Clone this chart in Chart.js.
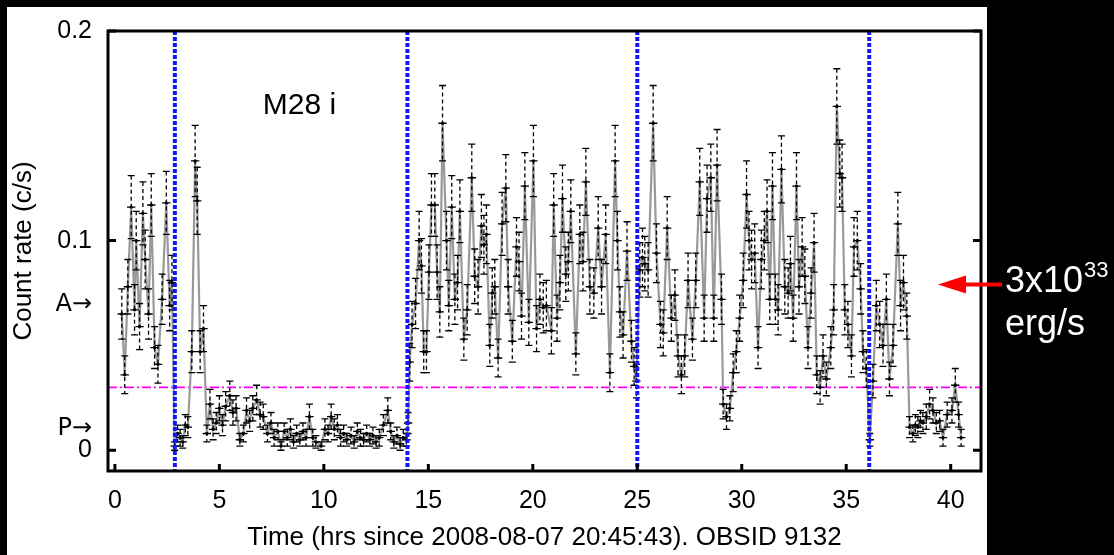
<!DOCTYPE html>
<html><head><meta charset="utf-8">
<script src="https://cdn.jsdelivr.net/npm/chart.js@4"></script>
<style>html,body{margin:0;padding:0;background:#000;}canvas{display:block}</style>
</head><body>
<canvas id="c" width="1114" height="555"></canvas>
<script>
// [hours, count rate (c/s), 1-sigma error]
const segBright1 = [
 [0.33,0.065,0.012],[0.47,0.036,0.009],[0.62,0.078,0.013],[0.78,0.116,0.015],[0.94,0.067,0.012],
 [1.02,0.100,0.014],[1.18,0.059,0.011],[1.34,0.113,0.015],[1.45,0.091,0.014],[1.61,0.065,0.012],
 [1.74,0.117,0.015],[1.90,0.049,0.010],[2.06,0.041,0.009],[2.26,0.072,0.012],[2.46,0.118,0.015],
 [2.62,0.069,0.012],[2.73,0.080,0.013],[2.86,0.002,0.002],[3.00,0.008,0.004],[3.12,0.006,0.004],
 [3.25,0.004,0.003],[3.37,0.012,0.005],[3.49,0.011,0.005],[3.68,0.047,0.010],[3.84,0.138,0.017],
 [3.94,0.119,0.016],[4.08,0.047,0.010],[4.24,0.058,0.011],[4.40,0.008,0.004]
];
const segFaint1 = [
 [4.55,0.022,0.007],[4.70,0.010,0.005],[4.85,0.013,0.005],[5.00,0.020,0.006],[5.15,0.012,0.005],
 [5.30,0.021,0.007],[5.50,0.026,0.007],[5.65,0.018,0.006],[5.80,0.020,0.006],[5.98,0.005,0.003],
 [6.15,0.008,0.004],[6.30,0.019,0.006],[6.45,0.014,0.005],[6.60,0.020,0.006],[6.78,0.024,0.007],
 [6.95,0.017,0.006],[7.10,0.016,0.006],[7.30,0.008,0.004],[7.47,0.013,0.005],[7.62,0.006,0.004],
 [7.80,0.009,0.004],[7.95,0.002,0.002],[8.10,0.009,0.004],[8.25,0.006,0.004],[8.40,0.010,0.005],
 [8.55,0.004,0.003],[8.70,0.008,0.004],[8.85,0.005,0.003],[9.00,0.009,0.004],[9.15,0.006,0.004],
 [9.31,0.016,0.006],[9.47,0.006,0.004],[9.62,0.004,0.003],[9.87,0.002,0.002],[10.05,0.010,0.005],
 [10.20,0.008,0.004],[10.35,0.016,0.006],[10.50,0.010,0.005],[10.65,0.012,0.005],[10.80,0.006,0.004],
 [10.95,0.008,0.004],[11.10,0.005,0.003],[11.30,0.007,0.004],[11.45,0.004,0.003],[11.60,0.009,0.004],
 [11.75,0.006,0.004],[11.90,0.005,0.003],[12.05,0.008,0.004],[12.20,0.005,0.003],[12.35,0.007,0.004],
 [12.50,0.004,0.003],[12.65,0.006,0.004],[12.85,0.012,0.005],[13.06,0.019,0.006],[13.20,0.009,0.004],
 [13.35,0.004,0.003],[13.50,0.007,0.004],[13.65,0.003,0.003],[13.80,0.006,0.004],[13.95,0.005,0.003],
 [14.03,0.013,0.005]
];
const segBright2 = [
 [14.11,0.042,0.009],[14.22,0.060,0.011],[14.39,0.070,0.012],[14.56,0.100,0.014],[14.67,0.088,0.013],
 [14.78,0.047,0.010],[14.91,0.047,0.010],[15.03,0.085,0.013],[15.15,0.117,0.015],[15.31,0.117,0.015],
 [15.42,0.085,0.013],[15.55,0.066,0.012],[15.68,0.156,0.018],[15.87,0.100,0.014],[15.98,0.069,0.012],
 [16.12,0.116,0.015],[16.27,0.072,0.012],[16.40,0.080,0.013],[16.51,0.114,0.015],[16.70,0.053,0.010],
 [16.86,0.067,0.012],[17.08,0.130,0.016],[17.22,0.083,0.013],[17.38,0.078,0.013],[17.54,0.107,0.015],
 [17.66,0.098,0.014],[17.78,0.103,0.014],[17.94,0.050,0.010],[18.06,0.075,0.012],[18.18,0.078,0.013],
 [18.34,0.044,0.009],[18.53,0.108,0.015],[18.71,0.125,0.016],[18.82,0.078,0.013],[19.02,0.052,0.010],
 [19.22,0.097,0.014],[19.34,0.090,0.014],[19.46,0.064,0.011],[19.62,0.126,0.016],[19.81,0.061,0.011],
 [20.03,0.138,0.017],[20.18,0.058,0.011],[20.34,0.072,0.012],[20.50,0.068,0.012],[20.65,0.069,0.012],
 [20.89,0.057,0.011],[21.00,0.117,0.015],[21.16,0.063,0.011],[21.30,0.080,0.013],[21.42,0.120,0.016],
 [21.58,0.084,0.013],[21.70,0.090,0.014],[21.82,0.114,0.015],[22.06,0.046,0.010],[22.25,0.103,0.014],
 [22.40,0.090,0.014],[22.54,0.128,0.016],[22.73,0.078,0.013],[22.92,0.075,0.012],[23.13,0.106,0.015],
 [23.29,0.078,0.013],[23.49,0.103,0.014],[23.69,0.037,0.009],[23.94,0.138,0.017],[24.05,0.100,0.014],
 [24.17,0.066,0.012],[24.32,0.055,0.011],[24.51,0.095,0.014],[24.72,0.052,0.010],[24.85,0.040,0.009],
 [24.96,0.033,0.008],[25.12,0.086,0.013],[25.25,0.092,0.014],[25.36,0.089,0.013],[25.52,0.086,0.013],
 [25.76,0.156,0.018],[25.92,0.094,0.014],[26.11,0.060,0.011],[26.24,0.056,0.011],[26.43,0.106,0.015],
 [26.63,0.063,0.011],[26.80,0.074,0.012],[26.95,0.045,0.010],[27.11,0.036,0.009],[27.27,0.045,0.010],
 [27.43,0.081,0.013],[27.64,0.053,0.010],[27.80,0.081,0.013],[27.99,0.128,0.016],[28.20,0.063,0.011],
 [28.34,0.120,0.016],[28.52,0.130,0.016],[28.66,0.063,0.011],[28.82,0.136,0.017],[29.03,0.072,0.012],
 [29.11,0.022,0.007],[29.27,0.016,0.006],[29.43,0.020,0.006],[29.59,0.037,0.009],[29.74,0.047,0.010],
 [29.90,0.063,0.011],[30.07,0.081,0.013],[30.23,0.122,0.016],[30.35,0.100,0.014],[30.47,0.091,0.014],
 [30.62,0.094,0.014],[30.78,0.049,0.010],[30.94,0.091,0.014],[31.08,0.100,0.014],[31.21,0.114,0.015],
 [31.34,0.072,0.012],[31.47,0.126,0.016],[31.61,0.072,0.012],[31.74,0.067,0.012],[31.90,0.134,0.016],
 [32.06,0.078,0.013],[32.22,0.075,0.012],[32.33,0.089,0.013],[32.46,0.063,0.011],[32.62,0.126,0.016],
 [32.74,0.078,0.013],[32.89,0.097,0.014],[33.02,0.083,0.013],[33.17,0.049,0.010],[33.32,0.075,0.012],
 [33.46,0.099,0.014],[33.59,0.036,0.009],[33.75,0.030,0.008],[33.89,0.045,0.010],[34.05,0.034,0.008],
 [34.26,0.049,0.010],[34.40,0.067,0.012],[34.55,0.164,0.018],[34.69,0.132,0.016],[34.80,0.130,0.016],
 [34.93,0.067,0.012],[35.08,0.060,0.011],[35.25,0.045,0.010],[35.37,0.097,0.014],[35.53,0.100,0.014],
 [35.69,0.077,0.012],[35.80,0.047,0.010],[35.96,0.039,0.009],[36.13,0.005,0.003],[36.28,0.033,0.008],
 [36.44,0.069,0.012],[36.60,0.060,0.011],[36.76,0.050,0.010],[36.92,0.072,0.012],[37.07,0.034,0.008],
 [37.24,0.050,0.010],[37.47,0.108,0.015],[37.60,0.069,0.012],[37.74,0.080,0.013],[37.90,0.064,0.011]
];
const segFaint2 = [
 [38.03,0.011,0.005],[38.19,0.008,0.004],[38.31,0.012,0.005],[38.43,0.011,0.005],[38.55,0.014,0.005],
 [38.67,0.013,0.005],[38.83,0.016,0.006],[38.99,0.022,0.007],[39.15,0.019,0.006],[39.31,0.013,0.005],
 [39.47,0.014,0.005],[39.63,0.006,0.004],[39.83,0.017,0.006],[40.06,0.019,0.006],[40.22,0.031,0.008],
 [40.38,0.017,0.006],[40.50,0.006,0.004]
];
const binHalfWidth = 0.2;
const xTickValues = [0,5,10,15,20,25,30,35,40];
const yTickMarks = [0,0.1,0.2];
const yTickLabels = [
 {value:0,label:'0'},{value:0.0103,label:'P\u2192'},{value:0.0695,label:'A\u2192'},
 {value:0.1,label:'0.1'},{value:0.2,label:'0.2'}
];
const eclipseEdges = [2.87,14.0,25.0,36.1];
const quiescentLevel = 0.03;
const sourceLabel = 'M28 i';
const xTitle = 'Time (hrs since 2008-08-07 20:45:43). OBSID 9132';
const yTitle = 'Count rate (c/s)';

const FONT = '"Liberation Sans", Arial, Helvetica, sans-serif';
const ARROW_FONT = '"DejaVu Sans", "Liberation Sans", sans-serif';
const points = [...segBright1,...segFaint1,...segBright2,...segFaint2].map(([x,y,e])=>({x,y,e}));

const decor = {
 id:'decor',
 beforeDraw(chart){
  const c = chart.ctx;
  c.save();
  c.fillStyle='#000'; c.fillRect(0,0,chart.width,chart.height);
  c.fillStyle='#fff'; c.fillRect(7,7,980,548);
  c.restore();
 },
 beforeDatasetsDraw(chart){
  const c = chart.ctx, a = chart.chartArea, y = chart.scales.y;
  c.save();
  c.strokeStyle='#ff00ff'; c.lineWidth=1.6; c.setLineDash([9,3,2,3]);
  const py = y.getPixelForValue(quiescentLevel);
  c.beginPath(); c.moveTo(a.left,py); c.lineTo(a.right,py); c.stroke();
  c.restore();
 },
 afterDatasetsDraw(chart){
  const c = chart.ctx, a = chart.chartArea, x = chart.scales.x, y = chart.scales.y;
  c.save();
  c.beginPath(); c.rect(a.left,a.top,a.right-a.left,a.bottom-a.top); c.clip();
  c.strokeStyle='#000'; c.lineWidth=1.3;
  points.forEach(p=>{
   const px=x.getPixelForValue(p.x), py=y.getPixelForValue(p.y);
   const t=y.getPixelForValue(p.y+p.e), b=y.getPixelForValue(Math.max(p.y-p.e,-0.005));
   c.setLineDash([]);
   c.beginPath();
   c.moveTo(x.getPixelForValue(p.x-binHalfWidth),py); c.lineTo(x.getPixelForValue(p.x+binHalfWidth),py);
   c.moveTo(px-3.5,t); c.lineTo(px+3.5,t);
   c.moveTo(px-3.5,b); c.lineTo(px+3.5,b);
   c.stroke();
   c.setLineDash([4,3]);
   c.beginPath(); c.moveTo(px,t); c.lineTo(px,b); c.stroke();
  });
  // eclipse boundaries
  c.setLineDash([4,2]); c.strokeStyle='#1414ff'; c.lineWidth=4;
  eclipseEdges.forEach(v=>{
   const px=x.getPixelForValue(v);
   c.beginPath(); c.moveTo(px,a.top); c.lineTo(px,a.bottom); c.stroke();
  });
  c.restore();
 },
 afterDraw(chart){
  const c = chart.ctx, a = chart.chartArea, x = chart.scales.x, y = chart.scales.y;
  c.save();
  c.strokeStyle='#000'; c.lineWidth=3; c.setLineDash([]);
  c.strokeRect(a.left,a.top,a.right-a.left,a.bottom-a.top);
  c.beginPath();
  yTickMarks.forEach(v=>{
   const py=y.getPixelForValue(v);
   c.moveTo(a.left,py); c.lineTo(a.left+8,py);
   c.moveTo(a.right,py); c.lineTo(a.right-8,py);
  });
  xTickValues.forEach(v=>{
   const px=x.getPixelForValue(v);
   c.moveTo(px,a.bottom); c.lineTo(px,a.bottom-7);
  });
  c.stroke();
  // source label
  c.fillStyle='#000'; c.font='30px '+FONT; c.textAlign='left'; c.textBaseline='alphabetic';
  c.fillText(sourceLabel, x.getPixelForValue(7.08), y.getPixelForValue(0.1606));
  // luminosity annotation
  const ay = y.getPixelForValue(0.0791);
  c.strokeStyle='#ff0000'; c.fillStyle='#ff0000'; c.lineWidth=4;
  c.beginPath(); c.moveTo(1002,ay); c.lineTo(960,ay); c.stroke();
  c.beginPath(); c.moveTo(938,ay); c.lineTo(966,ay-9); c.lineTo(966,ay+9); c.closePath(); c.fill();
  c.fillStyle='#fff'; c.font='36px '+FONT;
  c.fillText('3x10',1005,292);
  const w = c.measureText('3x10').width;
  c.font='22px '+FONT; c.fillText('33',1005+w+1,277);
  c.font='36px '+FONT; c.fillText('erg/s',1005,335);
  c.restore();
 }
};

new Chart(document.getElementById('c'),{
 type:'line',
 data:{datasets:[{data:points, borderColor:'#999999', borderWidth:2.2, pointRadius:1.7,
   pointBackgroundColor:'#000', pointBorderWidth:0, tension:0}]},
 options:{
  responsive:false, animation:false, devicePixelRatio:1,
  layout:{padding:{left:8,top:24,right:133,bottom:0}},
  plugins:{legend:{display:false},tooltip:{enabled:false}},
  scales:{
   x:{type:'linear', min:-0.33, max:41.45,
    afterFit:s=>{s.height=84;},
    afterBuildTicks:s=>{s.ticks=xTickValues.map(v=>({value:v}));},
    grid:{display:false,drawTicks:false}, border:{display:false},
    ticks:{padding:15, color:'#000', font:{family:FONT,size:25}, maxRotation:0, autoSkip:false},
    title:{display:true, text:xTitle, color:'#000', font:{family:FONT,size:26}, padding:{top:0,bottom:2}}
   },
   y:{type:'linear', min:-0.0099, max:0.2,
    afterFit:s=>{s.width=100;},
    afterBuildTicks:s=>{s.ticks=yTickLabels.map(t=>({value:t.value}));},
    grid:{display:false,drawTicks:false}, border:{display:false},
    ticks:{padding:16, color:'#000', autoSkip:false,
     font:(ctx)=>{
      const lab = ctx.tick && yTickLabels.find(t=>t.value===ctx.tick.value);
      const arrow = lab && lab.label.indexOf('\u2192')>=0;
      return {family: arrow ? ARROW_FONT : FONT, size: arrow ? 24 : 25};
     },
     callback:(v,i)=>yTickLabels[i].label},
    title:{display:true, text:yTitle, color:'#000', font:{family:FONT,size:26}, padding:{top:0,bottom:0}}
   }
  }
 },
 plugins:[decor]
});
</script>
</body></html>
